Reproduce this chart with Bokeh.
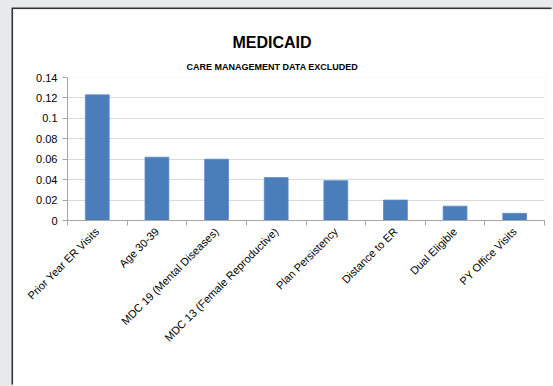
import math
from bokeh.plotting import figure
from bokeh.layouts import column
from bokeh.models import Range1d, FixedTicker, Title, ColumnDataSource
from bokeh.embed import file_html
from bokeh.resources import INLINE

categories = ["Prior Year ER Visits", "Age 30-39", "MDC 19 (Mental Diseases)",
              "MDC 13 (Female Reproductive)", "Plan Persistency", "Distance to ER",
              "Dual Eligible", "PY Office Visits"]
values = [0.123, 0.062, 0.060, 0.042, 0.039, 0.020, 0.014, 0.007]
y_ticks = [0, 0.02, 0.04, 0.06, 0.08, 0.1, 0.12, 0.14]
y_tick_labels = ["0", "0.02", "0.04", "0.06", "0.08", "0.1", "0.12", "0.14"]
title_text = "MEDICAID"
subtitle_text = "CARE MANAGEMENT DATA EXCLUDED"

n = len(categories)
centers = [i + 0.5 for i in range(n)]
src = ColumnDataSource(dict(x=centers, top=values, name=categories))

FONT = "Liberation Sans"

p = figure(width=540, height=377, output_backend="svg", toolbar_location=None,
           x_range=Range1d(0, n), y_range=Range1d(0, 0.14),
           min_border_left=54, min_border_right=9, min_border_top=68,
           min_border_bottom=166, margin=(9, 0, 0, 13))
p.border_fill_color = "white"
p.background_fill_color = "white"
p.outline_line_color = None
p.styles = {"box-shadow": "-1.5px -1.5px 0 0 #333333"}

p.vbar(x="x", top="top", width=0.4, bottom=0, source=src,
       fill_color="#4a7ebb", line_color="#5a8cc8", line_width=0.8)

# y axis
p.yaxis.ticker = FixedTicker(ticks=y_ticks, minor_ticks=[])
p.yaxis.major_label_overrides = {t: l for t, l in zip(y_ticks, y_tick_labels)}
p.yaxis.axis_line_color = "#a6a6a6"
p.yaxis.major_tick_line_color = "#a6a6a6"
p.yaxis.major_tick_out = 5
p.yaxis.major_tick_in = 0
p.yaxis.minor_tick_line_color = None
p.yaxis.major_label_text_font = FONT
p.yaxis.major_label_text_font_size = "11px"
p.yaxis.major_label_text_color = "#000000"
p.yaxis.major_label_standoff = 5
p.ygrid.ticker = FixedTicker(ticks=y_ticks)
p.ygrid.grid_line_color = "#d9d9d9"
p.xgrid.grid_line_color = None

# x axis
p.xaxis.ticker = FixedTicker(ticks=centers, minor_ticks=list(range(n + 1)))
p.xaxis.major_label_overrides = {c: name for c, name in zip(centers, categories)}
p.xaxis.major_label_orientation = math.pi / 4
p.xaxis.major_tick_line_color = None
p.xaxis.minor_tick_line_color = "#a6a6a6"
p.xaxis.minor_tick_out = 5
p.xaxis.minor_tick_in = 0
p.xaxis.axis_line_color = "#a6a6a6"
p.xaxis.major_label_text_font = FONT
p.xaxis.major_label_text_font_size = "11px"
p.xaxis.major_label_text_color = "#000000"
p.xaxis.major_label_standoff = 3

p.add_layout(Title(text=subtitle_text, align="left", offset=119, standoff=12,
                   text_font=FONT, text_font_size="9px", text_font_style="bold",
                   text_color="black"), "above")
p.add_layout(Title(text=title_text, align="left", offset=165, standoff=6,
                   text_font=FONT, text_font_size="16px", text_font_style="bold",
                   text_color="black"), "above")

page = column(p, width=553, height=386, styles={"background-color": "#e8e9eb"})

open("out.html", "w").write(file_html(page, INLINE))
